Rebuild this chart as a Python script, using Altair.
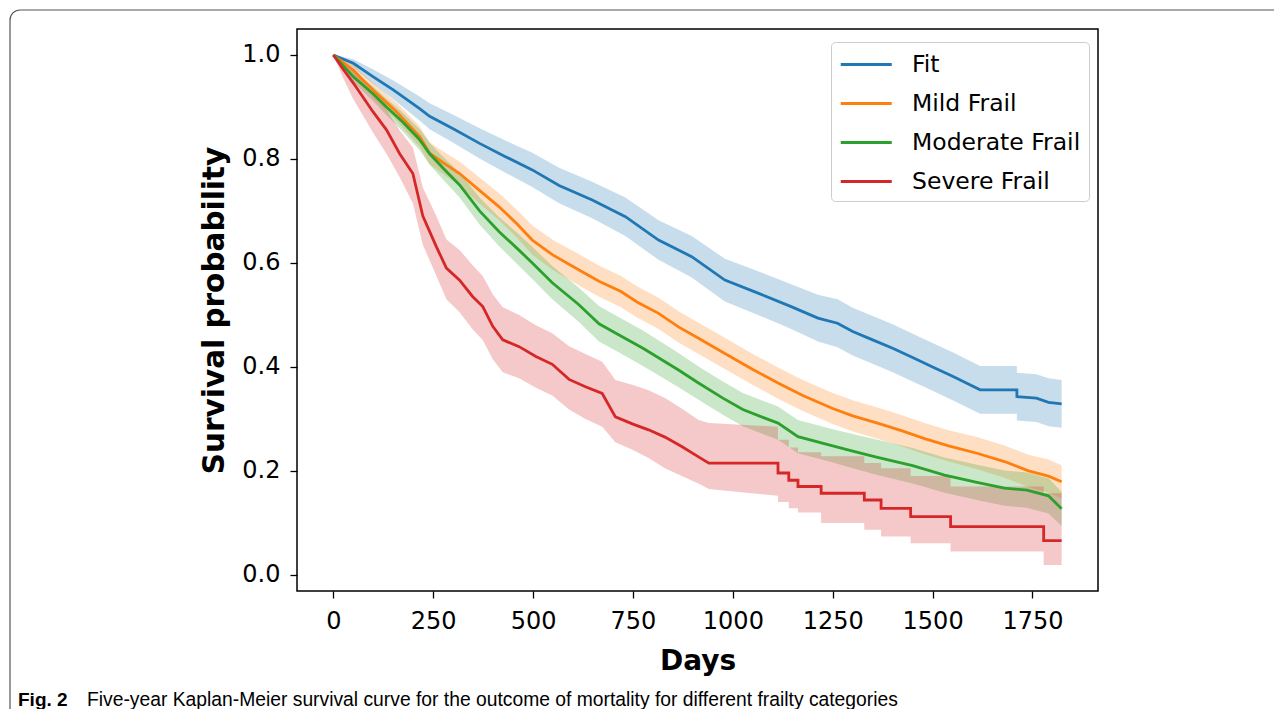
import altair as alt
import pandas as pd

SERIES = ["Fit", "Mild Frail", "Moderate Frail", "Severe Frail"]
COLORS = ["#1f77b4", "#ff7f0e", "#2ca02c", "#d62728"]
X_TICKS = [0, 250, 500, 750, 1000, 1250, 1500, 1750]
Y_TICKS = [0.0, 0.2, 0.4, 0.6, 0.8, 1.0]
X_TITLE = "Days"
Y_TITLE = "Survival probability"
CAPTION_BOLD = "Fig. 2"
CAPTION_TEXT = "Five-year Kaplan-Meier survival curve for the outcome of mortality for different frailty categories"

# ---- Fit ----
fit_days = [0, 50, 100, 150, 216, 241, 300, 366, 432, 498, 565, 648, 731, 814, 897, 980, 1063, 1146, 1213,
            1262, 1300, 1350, 1400, 1450, 1500, 1550, 1619, 1711, 1711, 1760, 1790, 1823]
fit_surv = [1.0, 0.984, 0.958, 0.933, 0.897, 0.882, 0.858, 0.83, 0.804, 0.779, 0.749, 0.721, 0.689, 0.644,
            0.612, 0.567, 0.542, 0.516, 0.494, 0.484, 0.468, 0.452, 0.436, 0.418, 0.40, 0.382, 0.356, 0.356,
            0.343, 0.340, 0.332, 0.329]
fit_lo = [1.0, 0.976, 0.944, 0.915, 0.874, 0.857, 0.831, 0.801, 0.773, 0.746, 0.715, 0.686, 0.652, 0.606,
          0.572, 0.526, 0.500, 0.473, 0.449, 0.438, 0.422, 0.406, 0.390, 0.372, 0.354, 0.336, 0.310, 0.310,
          0.297, 0.294, 0.286, 0.283]
fit_hi = [1.0, 0.992, 0.972, 0.951, 0.920, 0.907, 0.885, 0.859, 0.835, 0.812, 0.783, 0.756, 0.726, 0.682,
          0.652, 0.608, 0.584, 0.559, 0.539, 0.530, 0.514, 0.498, 0.482, 0.464, 0.446, 0.428, 0.402, 0.402,
          0.389, 0.386, 0.378, 0.375]

# ---- Mild Frail ----
mild_days = [0, 50, 74, 100, 158, 216, 241, 280, 316, 365, 415, 460, 498, 550, 614, 665, 720, 760, 814, 864,
             914, 980, 1050, 1113, 1175, 1250, 1300, 1362, 1420, 1480, 1540, 1611, 1680, 1740, 1790, 1823]
mild_surv = [1.0, 0.971, 0.952, 0.932, 0.891, 0.843, 0.811, 0.79, 0.772, 0.74, 0.708, 0.675, 0.644, 0.615,
             0.587, 0.565, 0.545, 0.525, 0.503, 0.477, 0.455, 0.426, 0.395, 0.369, 0.345, 0.32, 0.306, 0.292,
             0.278, 0.262, 0.248, 0.234, 0.218, 0.2, 0.19, 0.179]
mild_lo = [1.0, 0.961, 0.940, 0.918, 0.874, 0.823, 0.790, 0.768, 0.749, 0.715, 0.682, 0.648, 0.616, 0.586,
           0.557, 0.535, 0.515, 0.495, 0.473, 0.447, 0.425, 0.396, 0.365, 0.339, 0.315, 0.290, 0.276, 0.262,
           0.248, 0.232, 0.218, 0.203, 0.187, 0.169, 0.158, 0.147]
mild_hi = [1.0, 0.981, 0.964, 0.946, 0.908, 0.863, 0.832, 0.812, 0.795, 0.765, 0.734, 0.702, 0.672, 0.644,
           0.617, 0.595, 0.575, 0.555, 0.533, 0.507, 0.485, 0.456, 0.425, 0.399, 0.375, 0.350, 0.336, 0.322,
           0.308, 0.292, 0.278, 0.265, 0.249, 0.231, 0.222, 0.211]

# ---- Moderate Frail ----
mod_days = [0, 50, 100, 133, 175, 216, 241, 275, 316, 366, 415, 460, 498, 548, 614, 665, 714, 775, 864, 914,
            975, 1025, 1075, 1113, 1163, 1250, 1300, 1362, 1450, 1530, 1611, 1680, 1736, 1790, 1823]
mod_surv = [1.0, 0.958, 0.925, 0.9, 0.87, 0.837, 0.81, 0.782, 0.75, 0.70, 0.66, 0.628, 0.60, 0.562, 0.52,
            0.483, 0.462, 0.436, 0.394, 0.369, 0.34, 0.318, 0.303, 0.292, 0.266, 0.248, 0.238, 0.226, 0.21,
            0.192, 0.178, 0.167, 0.163, 0.152, 0.127]
mod_lo = [1.0, 0.948, 0.911, 0.884, 0.852, 0.817, 0.789, 0.760, 0.726, 0.674, 0.632, 0.598, 0.569, 0.530,
          0.487, 0.449, 0.428, 0.402, 0.361, 0.337, 0.308, 0.286, 0.271, 0.260, 0.234, 0.216, 0.205, 0.192,
          0.176, 0.158, 0.144, 0.133, 0.129, 0.118, 0.094]
mod_hi = [1.0, 0.968, 0.939, 0.916, 0.888, 0.857, 0.831, 0.804, 0.774, 0.726, 0.688, 0.658, 0.631, 0.594,
          0.553, 0.517, 0.496, 0.470, 0.427, 0.401, 0.372, 0.350, 0.335, 0.324, 0.298, 0.280, 0.271, 0.260,
          0.244, 0.226, 0.212, 0.201, 0.197, 0.186, 0.160]

# ---- Severe Frail ----
sev_days = [0, 25, 50, 100, 133, 166, 199, 224, 258, 283, 316, 349, 374, 399, 424, 465, 507, 548, 590, 631,
            673, 706, 750, 789, 830, 872, 914, 940, 1113, 1113, 1140, 1140, 1163, 1163, 1221, 1221, 1329, 1329,
            1371, 1371, 1445, 1445, 1545, 1545, 1778, 1778, 1823]
sev_surv = [1.0, 0.972, 0.946, 0.89, 0.856, 0.81, 0.772, 0.69, 0.631, 0.59, 0.567, 0.535, 0.516, 0.478, 0.452,
            0.439, 0.42, 0.405, 0.376, 0.362, 0.349, 0.304, 0.29, 0.279, 0.265, 0.247, 0.227, 0.215, 0.215,
            0.196, 0.196, 0.182, 0.182, 0.17, 0.17, 0.157, 0.157, 0.144, 0.144, 0.128, 0.128, 0.112, 0.112,
            0.093, 0.093, 0.066, 0.066]
sev_lo = [1.0, 0.955, 0.915, 0.85, 0.81, 0.765, 0.715, 0.635, 0.575, 0.53, 0.505, 0.472, 0.452, 0.415, 0.39,
          0.378, 0.36, 0.345, 0.318, 0.30, 0.285, 0.255, 0.24, 0.225, 0.205, 0.19, 0.176, 0.165, 0.152,
          0.140, 0.140, 0.128, 0.128, 0.12, 0.12, 0.10, 0.10, 0.087, 0.087, 0.074, 0.074, 0.061, 0.061,
          0.045, 0.045, 0.019, 0.019]
sev_hi = [1.0, 0.985, 0.972, 0.925, 0.895, 0.855, 0.822, 0.745, 0.69, 0.645, 0.625, 0.595, 0.575, 0.54, 0.515,
          0.50, 0.48, 0.465, 0.44, 0.425, 0.41, 0.375, 0.365, 0.355, 0.34, 0.32, 0.298, 0.292, 0.285, 0.26,
          0.26, 0.245, 0.245, 0.236, 0.236, 0.228, 0.228, 0.215, 0.215, 0.205, 0.205, 0.19, 0.19, 0.17, 0.17,
          0.157, 0.157]

rows = []
for name, days, surv, lo, hi in [
    (SERIES[0], fit_days, fit_surv, fit_lo, fit_hi),
    (SERIES[1], mild_days, mild_surv, mild_lo, mild_hi),
    (SERIES[2], mod_days, mod_surv, mod_lo, mod_hi),
    (SERIES[3], sev_days, sev_surv, sev_lo, sev_hi),
]:
    for i, (d, s, l, h) in enumerate(zip(days, surv, lo, hi)):
        rows.append({"group": name, "band": name, "day": d, "surv": s, "lo": l, "hi": h, "idx": i})
df = pd.DataFrame(rows)

FONT = "DejaVu Sans"

xscale = alt.Scale(domain=[-91, 1914], nice=False, zero=False)
yscale = alt.Scale(domain=[-0.031, 1.05], nice=False, zero=False)

xaxis = alt.Axis(values=X_TICKS, format="d", title=X_TITLE, grid=False, domain=False, tickSize=7, tickWidth=1.3,
                 tickColor="black", labelFontSize=24, labelFont=FONT, labelColor="black", labelPadding=11,
                 labelFlush=False, labelOverlap=False,
                 titleFontSize=28, titleFont=FONT, titleFontWeight="bold", titleColor="black", titlePadding=14)
yaxis = alt.Axis(values=Y_TICKS, format=".1f", title=Y_TITLE, grid=False, domain=False, tickSize=7,
                 tickWidth=1.3, tickColor="black", labelFontSize=24, labelFont=FONT, labelColor="black",
                 labelPadding=10, labelOverlap=False,
                 titleFontSize=29.5, titleFont=FONT, titleFontWeight="bold", titleColor="black", titlePadding=12)

base = alt.Chart(df)

bands = base.mark_area(opacity=0.25).encode(
    x=alt.X("day:Q", scale=xscale, axis=xaxis),
    y=alt.Y("lo:Q", scale=yscale, axis=yaxis),
    y2="hi:Q",
    fill=alt.Fill("band:N", scale=alt.Scale(range=COLORS), legend=None),
)

lines = base.mark_line(strokeWidth=2.8).encode(
    x=alt.X("day:Q", scale=xscale),
    y=alt.Y("surv:Q", scale=yscale),
    order="idx:Q",
    stroke=alt.Stroke(
        "group:N",
        scale=alt.Scale(domain=SERIES, range=COLORS),
        legend=alt.Legend(title=None, orient="none", legendX=534, legendY=13, symbolType="M-1,0H3",
                          symbolSize=650, symbolStrokeWidth=3, symbolFillColor="transparent",
                          labelFontSize=23.5, labelFont=FONT,
                          labelColor="black", labelOffset=44, labelLimit=400, padding=8, rowPadding=13,
                          strokeColor="#cccccc", fillColor="white", cornerRadius=4),
    ),
)

dummy = pd.DataFrame({"k": [0]})
frame = alt.Chart(dummy).mark_rect(cornerRadius=10, fillOpacity=0, stroke="#555555", strokeWidth=1.2).encode(
    x=alt.value(-287), x2=alt.value(1003), y=alt.value(-19), y2=alt.value(711)
)
cap1 = alt.Chart(dummy).mark_text(align="left", baseline="alphabetic", font="Liberation Sans",
                                  fontSize=19, fontWeight="bold", color="black").encode(
    x=alt.value(-279), y=alt.value(677), text=alt.value(CAPTION_BOLD)
)
cap2 = alt.Chart(dummy).mark_text(align="left", baseline="alphabetic", font="Liberation Sans",
                                  fontSize=19.3, color="black").encode(
    x=alt.value(-210), y=alt.value(677), text=alt.value(CAPTION_TEXT)
)

chart = alt.layer(frame, bands, lines, cap1, cap2).properties(
    width=801, height=562,
    autosize=alt.AutoSizeParams(type="none"),
    padding={"left": 289, "top": 21, "right": 176, "bottom": 118},
    background="white",
).configure_view(stroke="black", strokeWidth=1.5)

chart.save("out.html", embed_options={"renderer": "svg", "actions": False})
